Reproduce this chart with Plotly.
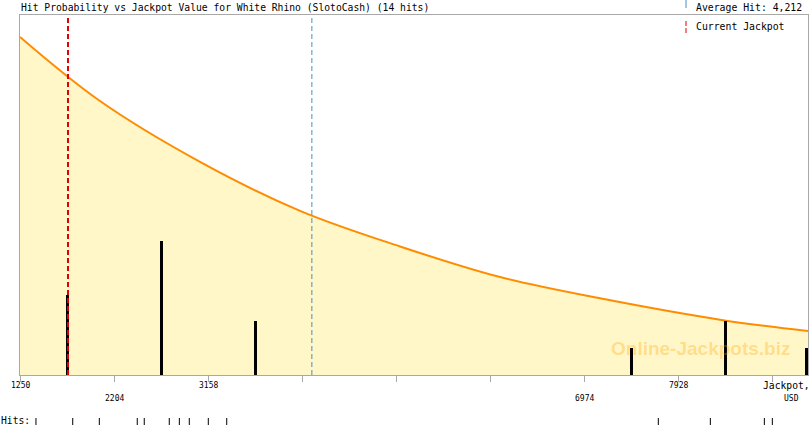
import numpy as np
import plotly.graph_objects as go

# ---------------- data ----------------
title_text = "Hit Probability vs Jackpot Value for White Rhino (SlotoCash) (14 hits)"
hits = [1412, 1785, 2055, 2440, 2511, 2765, 2867, 2968, 3161, 3348, 7728, 8256, 8804, 8885]
average_hit = 4212
current_jackpot = 1737

tick_values = [1250, 2204, 3158, 4112, 5066, 6020, 6974, 7928, 8882]
tick_labels = ["1250", "2204", "3158", "", "", "", "6974", "7928", ""]
tick_rows = [0, 1, 0, 0, 0, 0, 1, 0, 0]

curve_x = [1250, 2062, 3077, 4092, 5107, 6122, 7136, 8415, 9247]
curve_prob = [0.939, 0.761, 0.592, 0.456, 0.357, 0.272, 0.213, 0.151, 0.122]

x_min, x_max = 1250, 9247
bin_width = 954

# ---------------- layout helpers ----------------
W, H = 810, 425
L, R, T, B = 20, 2, 15, 50
PW, PH = W - L - R, H - T - B

def py(p):  # pixel y -> paper y
    return (H - B - p) / PH

def pxp(p):  # pixel x -> paper x
    return (p - L) / PW

# histogram of hits
edges = np.arange(x_min, x_min + bin_width * 10, bin_width)
counts, _ = np.histogram(hits, bins=edges)
centers = edges[:-1] + bin_width / 2
bar_w = 3 * bin_width / 94
bar_x = np.array([min(c, x_max - bar_w / 2) for c in centers])
mask = counts > 0
bar_x = bar_x[mask]
bar_y = counts[mask]

fig = go.Figure()
fig.add_trace(go.Scatter(
    x=curve_x, y=curve_prob, mode="lines",
    line=dict(color="#FF8C00", width=2, shape="spline", smoothing=1.0),
    fill="tozeroy", fillcolor="#FFF7C8", hoverinfo="skip", yaxis="y"))
fig.add_trace(go.Bar(
    x=bar_x, y=bar_y, width=bar_w, marker=dict(color="#000000", line=dict(width=0)),
    yaxis="y2", hoverinfo="skip"))

font_mono = "DejaVu Sans Mono"
gray = "#A8A8A8"
blue = "#4A90C0"
red = "#E00000"

shapes = []
shapes.append(dict(type="line", xref="x", yref="paper", x0=average_hit, x1=average_hit, y0=0, y1=1,
                   line=dict(color=blue, width=1, dash="5px,3px"), layer="above"))
shapes.append(dict(type="line", xref="x", yref="paper", x0=current_jackpot, x1=current_jackpot, y0=0, y1=1,
                   line=dict(color=red, width=2, dash="5px,3px"), layer="above"))
shapes.append(dict(type="line", xref="paper", yref="paper", x0=pxp(686), x1=pxp(686), y0=py(0), y1=py(8),
                   line=dict(color=blue, width=1)))
shapes.append(dict(type="line", xref="paper", yref="paper", x0=pxp(686), x1=pxp(686), y0=py(21), y1=py(33),
                   line=dict(color=red, width=1, dash="5px,2px")))
for h in hits:
    shapes.append(dict(type="line", xref="x", yref="paper", x0=h, x1=h, y0=py(418), y1=py(425),
                       line=dict(color="#000000", width=1)))

annotations = []
def txt(text, x, y, size, xanchor="left", xref="paper", family=font_mono, color="#000"):
    annotations.append(dict(text=text, xref=xref, yref="paper", x=x, y=y,
                            xanchor=xanchor, yanchor="middle", showarrow=False,
                            font=dict(family=family, size=size, color=color)))

txt(title_text, pxp(19), py(7), 9.7)
txt("Average Hit: " + f"{average_hit:,}", pxp(694), py(7), 9.8)
txt("Current Jackpot", pxp(694), py(26), 9.8)
for v, lab, row in zip(tick_values, tick_labels, tick_rows):
    if lab:
        txt(lab, v, py(386 if row == 0 else 398), 8, xanchor="center", xref="x")
txt("Jackpot,", pxp(786), py(386), 9.7, xanchor="center")
txt("USD", pxp(791), py(398), 8, xanchor="center")
txt("Hits:", pxp(-1), py(420), 9.7)
txt("<b>Online-Jackpots.biz</b>", pxp(700), py(348), 19, xanchor="center",
    family="Liberation Sans", color="rgba(255,165,0,0.32)")

fig.update_layout(
    width=W, height=H,
    margin=dict(l=L, r=R, t=T, b=B, pad=0),
    paper_bgcolor="#FFFFFF", plot_bgcolor="#FFFFFF",
    showlegend=False, bargap=0,
    xaxis=dict(range=[x_min, x_max], tickvals=tick_values, showticklabels=False,
               ticks="outside", ticklen=6, tickcolor=gray, tickwidth=1,
               showline=True, linecolor=gray, linewidth=1, mirror=True,
               showgrid=False, zeroline=False, fixedrange=True),
    yaxis=dict(range=[0, 1], showticklabels=False, ticks="", showgrid=False, zeroline=False,
               showline=True, linecolor=gray, linewidth=1, mirror=True, fixedrange=True),
    yaxis2=dict(range=[0, PH / 26.8], overlaying="y", showticklabels=False, ticks="",
                showgrid=False, zeroline=False, showline=False, fixedrange=True),
    shapes=shapes, annotations=annotations,
)

fig.write_html("out.html", config={"displayModeBar": False},
               post_script="document.body.style.margin='0px';document.body.style.overflow='hidden';")
